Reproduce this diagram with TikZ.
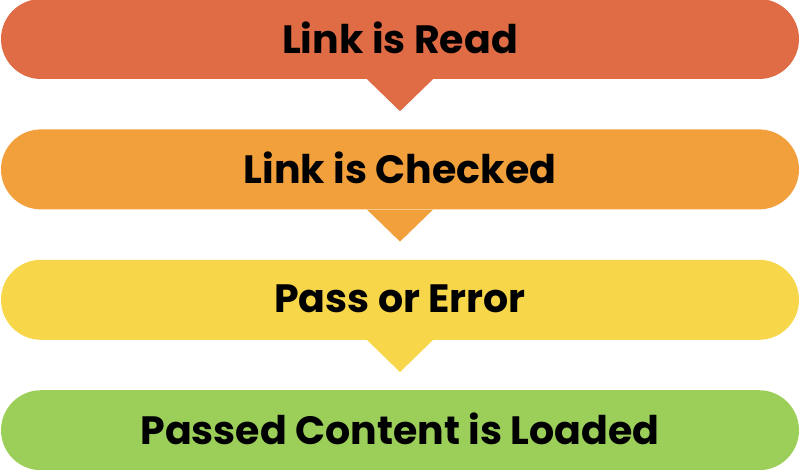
\documentclass[tikz,border=0pt]{standalone}
\usepackage{fontspec}
\setmainfont{Poppins}
\usetikzlibrary{positioning}
\definecolor{readC}{RGB}{224,108,69}
\definecolor{checkC}{RGB}{241,160,60}
\definecolor{passC}{RGB}{247,214,74}
\definecolor{loadC}{RGB}{156,207,90}
\def\dy{50pt}
\tikzstyle{bar}=[rectangle,rounded corners=40pt,inner sep=0pt,
  minimum width=798pt,minimum height=80pt,
  font=\bfseries\fontsize{39.5}{42}\selectfont]
\newcommand{\newBar}[4]{\node[bar,fill=#3](#1)[#4]{\raisebox{2.5pt}{#2}};}
\newcommand{\newPointer}[2]{\fill[#2] ([xshift=-33pt]#1.south) -- ([xshift=33pt]#1.south) -- ([yshift=-32pt]#1.south) -- cycle;}
\begin{document}
\begin{tikzpicture}[node distance=\dy]
    \useasboundingbox (0pt,0pt) rectangle (800pt,-470pt);
    \newBar{read}{Link is Read}{readC}{at={(400pt,-39pt)}}
    \newBar{check}{Link is Checked}{checkC}{below=of read}
    \newBar{pass}{Pass or Error}{passC}{below=of check}
    \newBar{load}{Passed Content is Loaded}{loadC}{below=of pass}
    \newPointer{read}{readC}
    \newPointer{check}{checkC}
    \newPointer{pass}{passC}
  \end{tikzpicture}
\end{document}
